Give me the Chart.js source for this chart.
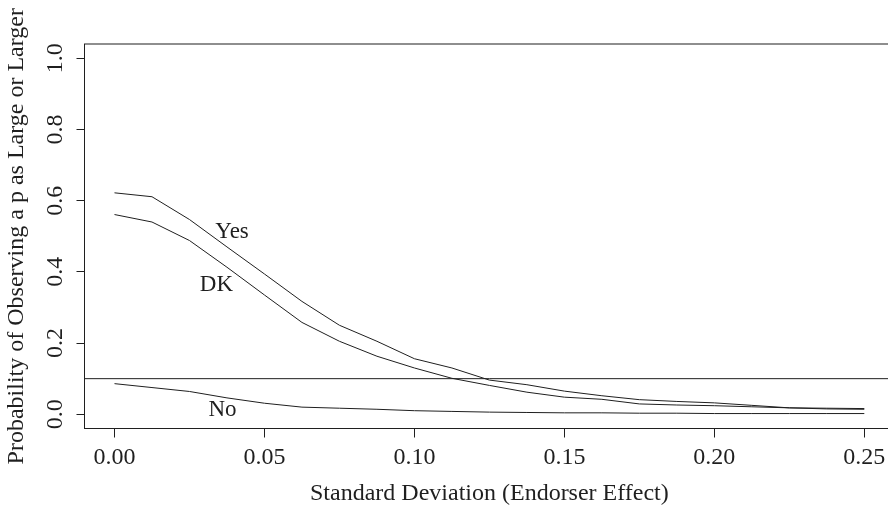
<!DOCTYPE html>
<html>
<head>
<meta charset="utf-8">
<script src="https://cdn.jsdelivr.net/npm/chart.js@4.4.1/dist/chart.umd.min.js"></script>
<style>
    html, body { margin: 0; padding: 0; background: #fff; overflow: hidden; }
    canvas { display: block; }
</style>
</head>
<body>
<canvas id="chart" width="895" height="510"></canvas>
<script>
// Standard deviation of the endorser effect (x)
const sdValues = [0, 0.0125, 0.025, 0.0375, 0.05, 0.0625, 0.075, 0.0875, 0.1, 0.1125, 0.125,
    0.1375, 0.15, 0.1625, 0.175, 0.1875, 0.2, 0.2125, 0.225, 0.2375, 0.25];

// Probability of observing a p as large or larger
const yesValues = [0.622, 0.611, 0.547, 0.470, 0.394, 0.317, 0.250, 0.205, 0.156, 0.130, 0.096,
    0.083, 0.065, 0.052, 0.041, 0.036, 0.032, 0.025, 0.018, 0.017, 0.016];
const dkValues = [0.561, 0.540, 0.488, 0.413, 0.335, 0.258, 0.205, 0.163, 0.130, 0.101, 0.081,
    0.062, 0.048, 0.042, 0.029, 0.026, 0.024, 0.021, 0.018, 0.015, 0.014];
const noValues = [0.086, 0.075, 0.064, 0.046, 0.031, 0.020, 0.017, 0.014, 0.010, 0.008, 0.006,
    0.005, 0.004, 0.004, 0.003, 0.003, 0.002, 0.002, 0.002, 0.002, 0.002];

const refLevel = 0.1;

const xTicks = [0, 0.05, 0.10, 0.15, 0.20, 0.25];
const yTicks = [0, 0.2, 0.4, 0.6, 0.8, 1.0];

// In-plot curve labels
const curveLabels = ['Yes', 'DK', 'No'];
const curveLabelX = [0.0392, 0.034, 0.036];
const curveLabelY = [0.512, 0.364, 0.013];

const ink = '#1f1f1f';
const serif = "'Liberation Serif', 'DejaVu Serif', serif";

const toPoints = vals => vals.map((v, i) => ({ x: sdValues[i], y: v }));

const lineStyle = {
    borderColor: ink,
    borderWidth: 1,
    pointRadius: 0,
    tension: 0,
    fill: false
};

// Box, reference line and curve labels
const decorations = {
    id: 'decorations',
    afterDatasetsDraw(chart) {
        const { ctx, chartArea: a, scales: { x, y } } = chart;
        ctx.save();
        ctx.strokeStyle = ink;
        ctx.lineWidth = 1;

        const yRef = y.getPixelForValue(refLevel);
        ctx.beginPath();
        ctx.moveTo(a.left, yRef);
        ctx.lineTo(a.right, yRef);
        ctx.stroke();

        ctx.strokeRect(a.left, a.top, a.right - a.left, a.bottom - a.top);

        ctx.fillStyle = ink;
        ctx.font = '23px ' + serif;
        ctx.textAlign = 'center';
        ctx.textBaseline = 'middle';
        curveLabels.forEach((t, i) => {
            ctx.fillText(t, x.getPixelForValue(curveLabelX[i]), y.getPixelForValue(curveLabelY[i]));
        });
        ctx.restore();
    }
};

new Chart(document.getElementById('chart'), {
    type: 'line',
    data: {
        datasets: [
            { ...lineStyle, label: 'Yes', data: toPoints(yesValues) },
            { ...lineStyle, label: 'DK', data: toPoints(dkValues) },
            { ...lineStyle, label: 'No', data: toPoints(noValues) }
        ]
    },
    options: {
        responsive: false,
        animation: false,
        events: [],
        layout: { padding: { top: 44, right: 0.7, left: 0, bottom: 0 } },
        plugins: {
            legend: { display: false },
            tooltip: { enabled: false }
        },
        scales: {
            x: {
                type: 'linear',
                min: -0.01,
                max: 0.26,
                afterBuildTicks: s => { s.ticks = xTicks.map(v => ({ value: v })); },
                afterFit: s => { s.height = 81.5; },
                border: { display: false },
                grid: { drawOnChartArea: false, drawTicks: true, tickLength: 9, color: ink, lineWidth: 1 },
                ticks: {
                    color: ink,
                    padding: 6,
                    maxRotation: 0,
                    autoSkip: false,
                    font: { family: serif, size: 24, lineHeight: 1.2 },
                    callback: v => v.toFixed(2)
                },
                title: {
                    display: true,
                    text: 'Standard Deviation (Endorser Effect)',
                    color: ink,
                    padding: { top: 0, bottom: 2 },
                    font: { family: serif, size: 24, lineHeight: 1.2 }
                }
            },
            y: {
                type: 'linear',
                min: -0.04,
                max: 1.04,
                afterBuildTicks: s => { s.ticks = yTicks.map(v => ({ value: v })); },
                afterFit: s => { s.width = 84.5; },
                border: { display: false },
                grid: { drawOnChartArea: false, drawTicks: true, tickLength: 8, color: ink, lineWidth: 1 },
                ticks: {
                    color: ink,
                    padding: 5.5,
                    minRotation: 90,
                    maxRotation: 90,
                    crossAlign: 'center',
                    autoSkip: false,
                    font: { family: serif, size: 24, lineHeight: 1.2 },
                    callback: v => v.toFixed(1)
                },
                title: {
                    display: true,
                    text: 'Probability of Observing a p as Large or Larger',
                    color: ink,
                    padding: { top: 2, bottom: 0 },
                    font: { family: serif, size: 24, lineHeight: 1.2 }
                }
            }
        }
    },
    plugins: [decorations]
});
</script>
</body>
</html>
